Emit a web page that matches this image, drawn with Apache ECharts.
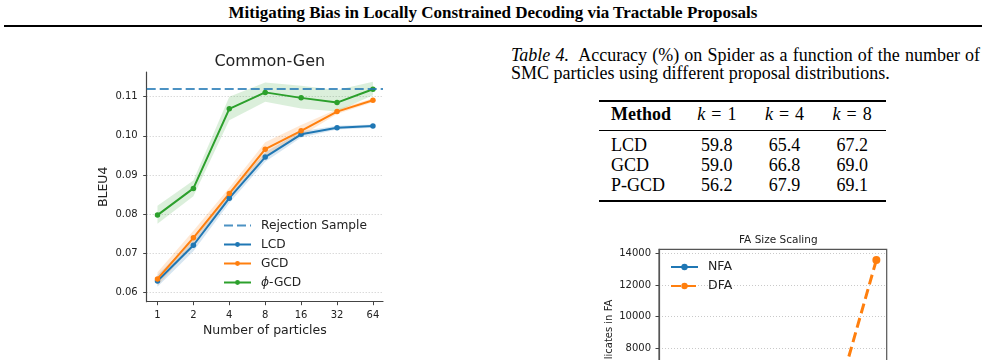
<!DOCTYPE html>
<html>
<head>
<meta charset="utf-8">
<script src="https://cdn.jsdelivr.net/npm/echarts@6/dist/echarts.min.js"></script>
<style>
html, body { margin: 0; padding: 0; width: 986px; height: 360px; overflow: hidden; background: #fff; }
.serif { position: absolute; font-family: 'Liberation Serif', 'Times New Roman', serif; color: #000; white-space: nowrap; }
#header { left: 0; top: 3px; width: 986px; text-align: center; font-weight: bold; font-size: 17px; line-height: 20px; }
#rule { position: absolute; left: 4px; top: 25px; width: 978px; height: 2px; background: #000; }
.cap { left: 511px; font-size: 18px; line-height: 18px; }
#cap1 { top: 46px; width: 469px; text-align: justify; text-align-last: justify; }
#cap2 { top: 64px; }
#spider { left: 599px; top: 100px; width: 287px; border-collapse: collapse; font-size: 18px;
  border-top: 2px solid #000; border-bottom: 2px solid #000; }
#spider td, #spider th { padding: 0; line-height: 20px; text-align: center; }
#spider th { font-weight: normal; padding: 2px 0 6px 0; border-bottom: 1px solid #000; }
#spider tr.first td { padding-top: 4px; }
#spider tr.last td { padding-bottom: 5px; }
#spider td.m, #spider th.m { text-align: left; padding-left: 12px; width: 72px; }
#spider .eq { padding: 0 6px; }
#main { position: absolute; left: 0; top: 0; width: 440px; height: 360px; }
#fa { position: absolute; left: 560px; top: 220px; width: 426px; height: 320px; }
</style>
</head>
<body>
<div id="header" class="serif">Mitigating Bias in Locally Constrained Decoding via Tractable Proposals</div>
<div id="rule"></div>
<div id="main"></div>
<div id="cap1" class="serif cap"><i>Table 4.</i>&nbsp; Accuracy (%) on Spider as a function of the number of</div>
<div id="cap2" class="serif cap">SMC particles using different proposal distributions.</div>
<table id="spider" class="serif"></table>
<div id="fa"></div>
<script>
// Common-Gen: BLEU4 vs number of SMC particles
const particles = ['1', '2', '4', '8', '16', '32', '64'];
const bleuTicks = [0.06, 0.07, 0.08, 0.09, 0.10, 0.11];
const rejectionBleu = 0.112;

const lcdBleu = [0.0630, 0.0721, 0.0841, 0.0946, 0.1004, 0.1021, 0.1025];
const lcdLow  = [0.0615, 0.0706, 0.0829, 0.0934, 0.0996, 0.1016, 0.1021];
const lcdHigh = [0.0645, 0.0736, 0.0853, 0.0958, 0.1012, 0.1026, 0.1029];

const gcdBleu = [0.0635, 0.0740, 0.0853, 0.0966, 0.1013, 0.1062, 0.1091];
const gcdLow  = [0.0618, 0.0722, 0.0838, 0.0948, 0.1000, 0.1056, 0.1086];
const gcdHigh = [0.0652, 0.0758, 0.0868, 0.0984, 0.1028, 0.1068, 0.1096];

const phiBleu = [0.0798, 0.0866, 0.1069, 0.1111, 0.1097, 0.1085, 0.1119];
const phiLow  = [0.0776, 0.0846, 0.1040, 0.1087, 0.1070, 0.1062, 0.1104];
const phiHigh = [0.0822, 0.0886, 0.1100, 0.1136, 0.1128, 0.1117, 0.1138];

// Table 4: Spider accuracy
const methods = ['LCD', 'GCD', 'P-GCD'];
const kValues = [1, 4, 8];
const accLcd = [59.8, 65.4, 67.2];
const accGcd = [59.0, 66.8, 69.0];
const accPgcd = [56.2, 67.9, 69.1];

// FA size scaling (only the top of this chart is visible)
const faSizes = [1, 2, 3, 4, 5, 6];
const nfaStates = [30, 45, 60, 75, 90, 105];
const dfaStates = [60, 180, 520, 1500, 4400, 13580];
const faTicks = [0, 2000, 4000, 6000, 8000, 10000, 12000, 14000];

const sans = 'DejaVu Sans';
const ink = '#222';
const spine = '#444';

function buildTable() {
  const table = document.getElementById('spider');
  let html = '<tr><th class="m"><b>Method</b></th>';
  kValues.forEach(k => { html += '<th><i>k</i><span class="eq">=</span>' + k + '</th>'; });
  html += '</tr>';
  const rows = [accLcd, accGcd, accPgcd];
  rows.forEach((row, i) => {
    let cls = i == 0 ? 'first' : (i == rows.length - 1 ? 'last' : '');
    html += '<tr class="' + cls + '"><td class="m">' + methods[i] + '</td>';
    row.forEach(v => { html += '<td>' + v.toFixed(1) + '</td>'; });
    html += '</tr>';
  });
  table.innerHTML = html;
}
buildTable();

function pairs(values) {
  return values.map((v, i) => [i, v]);
}

// shaded band between low and high, drawn as one polygon
function bandSeries(low, high, color) {
  return {
    type: 'custom', silent: true, z: 1,
    data: low.map((v, i) => [i, v, high[i]]),
    encode: { x: 0, y: [1, 2] },
    renderItem: (params, api) => {
      if (params.dataIndex != 0) {
        return;
      }
      const upper = high.map((h, i) => api.coord([i, h]));
      const lower = low.map((l, i) => api.coord([i, l])).reverse();
      return {
        type: 'polygon',
        shape: { points: upper.concat(lower) },
        style: { fill: color }
      };
    }
  };
}

function mainSeries(name, values, color) {
  return {
    type: 'line', name: name, data: pairs(values), color: color,
    symbol: 'circle', symbolSize: 5.5, lineStyle: { width: 2 }, z: 3
  };
}

const particleIdx = particles.map((p, i) => i);
const dashed = [9, 4];
const rejColor = 'rgba(31,119,180,0.8)';

let commonGen = echarts.init(document.getElementById('main'));
commonGen.setOption({
  animation: false,
  title: {
    text: 'Common-Gen', left: 264.8, top: 49, textAlign: 'center',
    textStyle: { fontSize: 16, fontWeight: 'normal', fontFamily: sans, color: ink }
  },
  grid: { left: 146.7, top: 72, width: 236.3, height: 229.7 },
  legend: {
    orient: 'vertical', left: 223, top: 218.5, padding: 0,
    itemWidth: 27, itemHeight: 6, itemGap: 5,
    data: [
      { name: 'Rejection Sample', itemStyle: { opacity: 0 } },
      'LCD', 'GCD', 'ϕ-GCD'
    ],
    formatter: name => name == 'ϕ-GCD' ? '{i|ϕ}-GCD' : name,
    textStyle: {
      fontSize: 12.2, fontFamily: sans, color: ink, lineHeight: 14, padding: [0, 0, 0, 5],
      rich: { i: { fontStyle: 'italic', fontSize: 12.2, fontFamily: sans, color: ink } }
    }
  },
  xAxis: {
    type: 'value', min: -0.3, max: 6.28,
    name: 'Number of particles', nameLocation: 'middle', nameGap: 23, nameMoveOverlap: false,
    nameTextStyle: { fontSize: 12.5, fontFamily: sans, color: ink },
    axisLine: { show: true, onZero: false, lineStyle: { color: spine, width: 1.2 } },
    axisTick: { show: true, customValues: particleIdx, length: 3.5, lineStyle: { color: spine } },
    axisLabel: {
      customValues: particleIdx, formatter: v => particles[v], margin: 9,
      fontSize: 10, fontFamily: sans, color: ink
    },
    splitLine: { show: false }
  },
  yAxis: {
    type: 'value', min: 0.0577, max: 0.1163,
    name: 'BLEU4', nameLocation: 'middle', nameGap: 36, nameMoveOverlap: false,
    nameTextStyle: { fontSize: 12.5, fontFamily: sans, color: ink },
    axisLine: { show: true, onZero: false, lineStyle: { color: spine, width: 1.2 } },
    axisTick: { show: true, customValues: bleuTicks, length: 3.5, lineStyle: { color: spine } },
    axisLabel: {
      customValues: bleuTicks, formatter: v => v.toFixed(2), margin: 9,
      fontSize: 10, fontFamily: sans, color: ink
    },
    splitLine: { show: true, customValues: bleuTicks, lineStyle: { type: [1, 2], color: '#bbb', width: 0.8 } }
  },
  series: [
    bandSeries(lcdLow, lcdHigh, 'rgba(31,119,180,0.18)'),
    bandSeries(gcdLow, gcdHigh, 'rgba(255,127,14,0.18)'),
    bandSeries(phiLow, phiHigh, 'rgba(44,160,44,0.17)'),
    {
      type: 'line', name: 'Rejection Sample', data: [], symbol: 'none',
      color: rejColor,
      lineStyle: { type: dashed, width: 1.8, color: rejColor },
      markLine: {
        symbol: 'none', silent: true, precision: 4, label: { show: false },
        lineStyle: { type: dashed, width: 1.8, color: rejColor },
        data: [{ yAxis: rejectionBleu }]
      },
      z: 2
    },
    mainSeries('LCD', lcdBleu, '#1f77b4'),
    mainSeries('GCD', gcdBleu, '#ff7f0e'),
    mainSeries('ϕ-GCD', phiBleu, '#2ca02c')
  ]
});

let faChart = echarts.init(document.getElementById('fa'));
faChart.setOption({
  animation: false,
  title: {
    text: 'FA Size Scaling', left: 213.3, top: 10, textAlign: 'center',
    textStyle: { fontSize: 10.5, fontWeight: 'normal', fontFamily: sans, color: ink }
  },
  grid: { left: 99, top: 29.3, width: 227.7, height: 235.6, show: true, borderColor: '#555', borderWidth: 1.2 },
  legend: {
    orient: 'vertical', left: 110, top: 40, padding: 0,
    itemWidth: 27, itemHeight: 8, itemGap: 5,
    data: ['NFA', 'DFA'],
    textStyle: { fontSize: 12.5, fontFamily: sans, color: ink, lineHeight: 14, padding: [0, 0, 0, 5] }
  },
  xAxis: {
    type: 'value', min: 0.75, max: 6.25,
    axisLine: { show: true, onZero: false, lineStyle: { color: '#555', width: 1.2 } },
    axisTick: { show: true, customValues: faSizes },
    axisLabel: { customValues: faSizes, fontSize: 10, fontFamily: sans, color: ink },
    splitLine: { show: false }
  },
  yAxis: {
    type: 'value', min: -626, max: 14256,
    name: 'Number of duplicates in FA', nameLocation: 'middle', nameGap: 45, nameMoveOverlap: false,
    nameTextStyle: { fontSize: 10, fontFamily: sans, color: ink },
    axisLine: { show: true, onZero: false, lineStyle: { color: '#555', width: 1.2 } },
    axisTick: { show: true, customValues: faTicks, length: 3.5, lineStyle: { color: spine } },
    axisLabel: { customValues: faTicks, formatter: v => String(v), margin: 8, fontSize: 10, fontFamily: sans, color: ink },
    splitLine: { show: true, customValues: faTicks, lineStyle: { type: [1, 2], color: '#bbb', width: 0.8 } }
  },
  series: [
    {
      type: 'line', name: 'NFA', data: faSizes.map((s, i) => [s, nfaStates[i]]), color: '#1f77b4',
      symbol: 'circle', symbolSize: 8, lineStyle: { width: 3 }
    },
    {
      type: 'line', name: 'DFA', data: faSizes.map((s, i) => [s, dfaStates[i]]), color: '#ff7f0e',
      symbol: 'circle', symbolSize: 8, lineStyle: { width: 3, type: [10, 5] }
    }
  ]
});
</script>
</body>
</html>
